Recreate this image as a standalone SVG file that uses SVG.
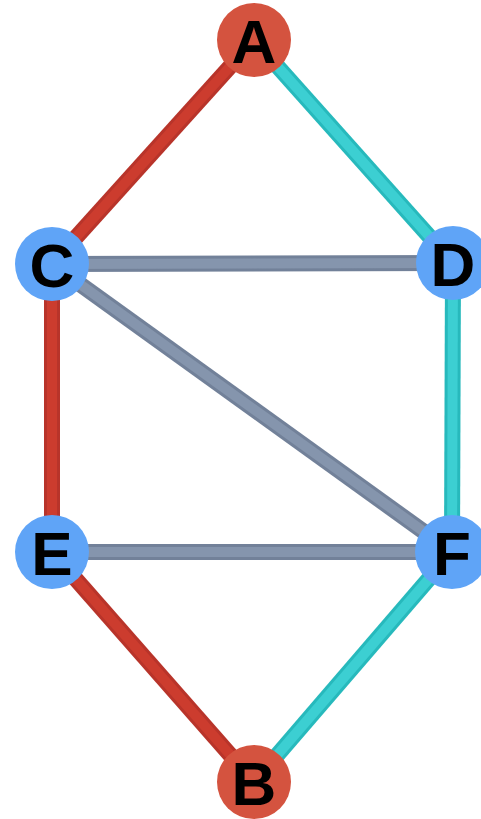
<svg xmlns="http://www.w3.org/2000/svg" width="481" height="819" viewBox="0 0 481 819">
<style>
.e{fill:none;stroke-width:16;stroke-linecap:butt}
.m{fill:none;stroke-width:10;stroke-linecap:butt}
.red{stroke:#b8342a}
.red2{stroke:#cc3c2e}
.cyan{stroke:#27b9bc}
.cyan2{stroke:#3ccfd2}
.gray{stroke:#728199}
.gray2{stroke:#8595ad}
.nr{fill:#d4533f}
.nb{fill:#5fa4f7}
text{font-family:"Liberation Sans",Arial,sans-serif;font-weight:bold;font-size:62px;fill:#000;text-anchor:middle}
</style>
<rect width="481" height="819" fill="#ffffff"/>
<g id="edges">
<line class="e red" x1="254" y1="40" x2="52" y2="264"/>
<line class="m red2" x1="254" y1="40" x2="52" y2="264"/>
<line class="e cyan" x1="254" y1="40" x2="453" y2="263"/>
<line class="m cyan2" x1="254" y1="40" x2="453" y2="263"/>
<line class="e gray" x1="52" y1="264" x2="453" y2="263"/>
<line class="m gray2" x1="52" y1="264" x2="453" y2="263"/>
<line class="e gray" x1="52" y1="264" x2="452" y2="552"/>
<line class="m gray2" x1="52" y1="264" x2="452" y2="552"/>
<line class="e red" x1="52" y1="264" x2="52" y2="552"/>
<line class="m red2" x1="52" y1="264" x2="52" y2="552"/>
<line class="e cyan" x1="453" y1="263" x2="452" y2="552"/>
<line class="m cyan2" x1="453" y1="263" x2="452" y2="552"/>
<line class="e gray" x1="52" y1="552" x2="452" y2="552"/>
<line class="m gray2" x1="52" y1="552" x2="452" y2="552"/>
<line class="e red" x1="52" y1="552" x2="254" y2="782"/>
<line class="m red2" x1="52" y1="552" x2="254" y2="782"/>
<line class="e cyan" x1="452" y1="552" x2="254" y2="782"/>
<line class="m cyan2" x1="452" y1="552" x2="254" y2="782"/>
</g>
<g id="A"><circle class="nr" cx="254" cy="40" r="37"/><text x="254" y="63">A</text></g>
<g id="C"><circle class="nb" cx="52" cy="264" r="37"/><text x="52" y="287">C</text></g>
<g id="D"><circle class="nb" cx="453" cy="263" r="37"/><text x="453" y="286">D</text></g>
<g id="E"><circle class="nb" cx="52" cy="552" r="37"/><text x="52" y="575">E</text></g>
<g id="F"><circle class="nb" cx="452" cy="552" r="37"/><text x="452" y="575">F</text></g>
<g id="B"><circle class="nr" cx="254" cy="782" r="37"/><text x="254" y="805">B</text></g>
</svg>
